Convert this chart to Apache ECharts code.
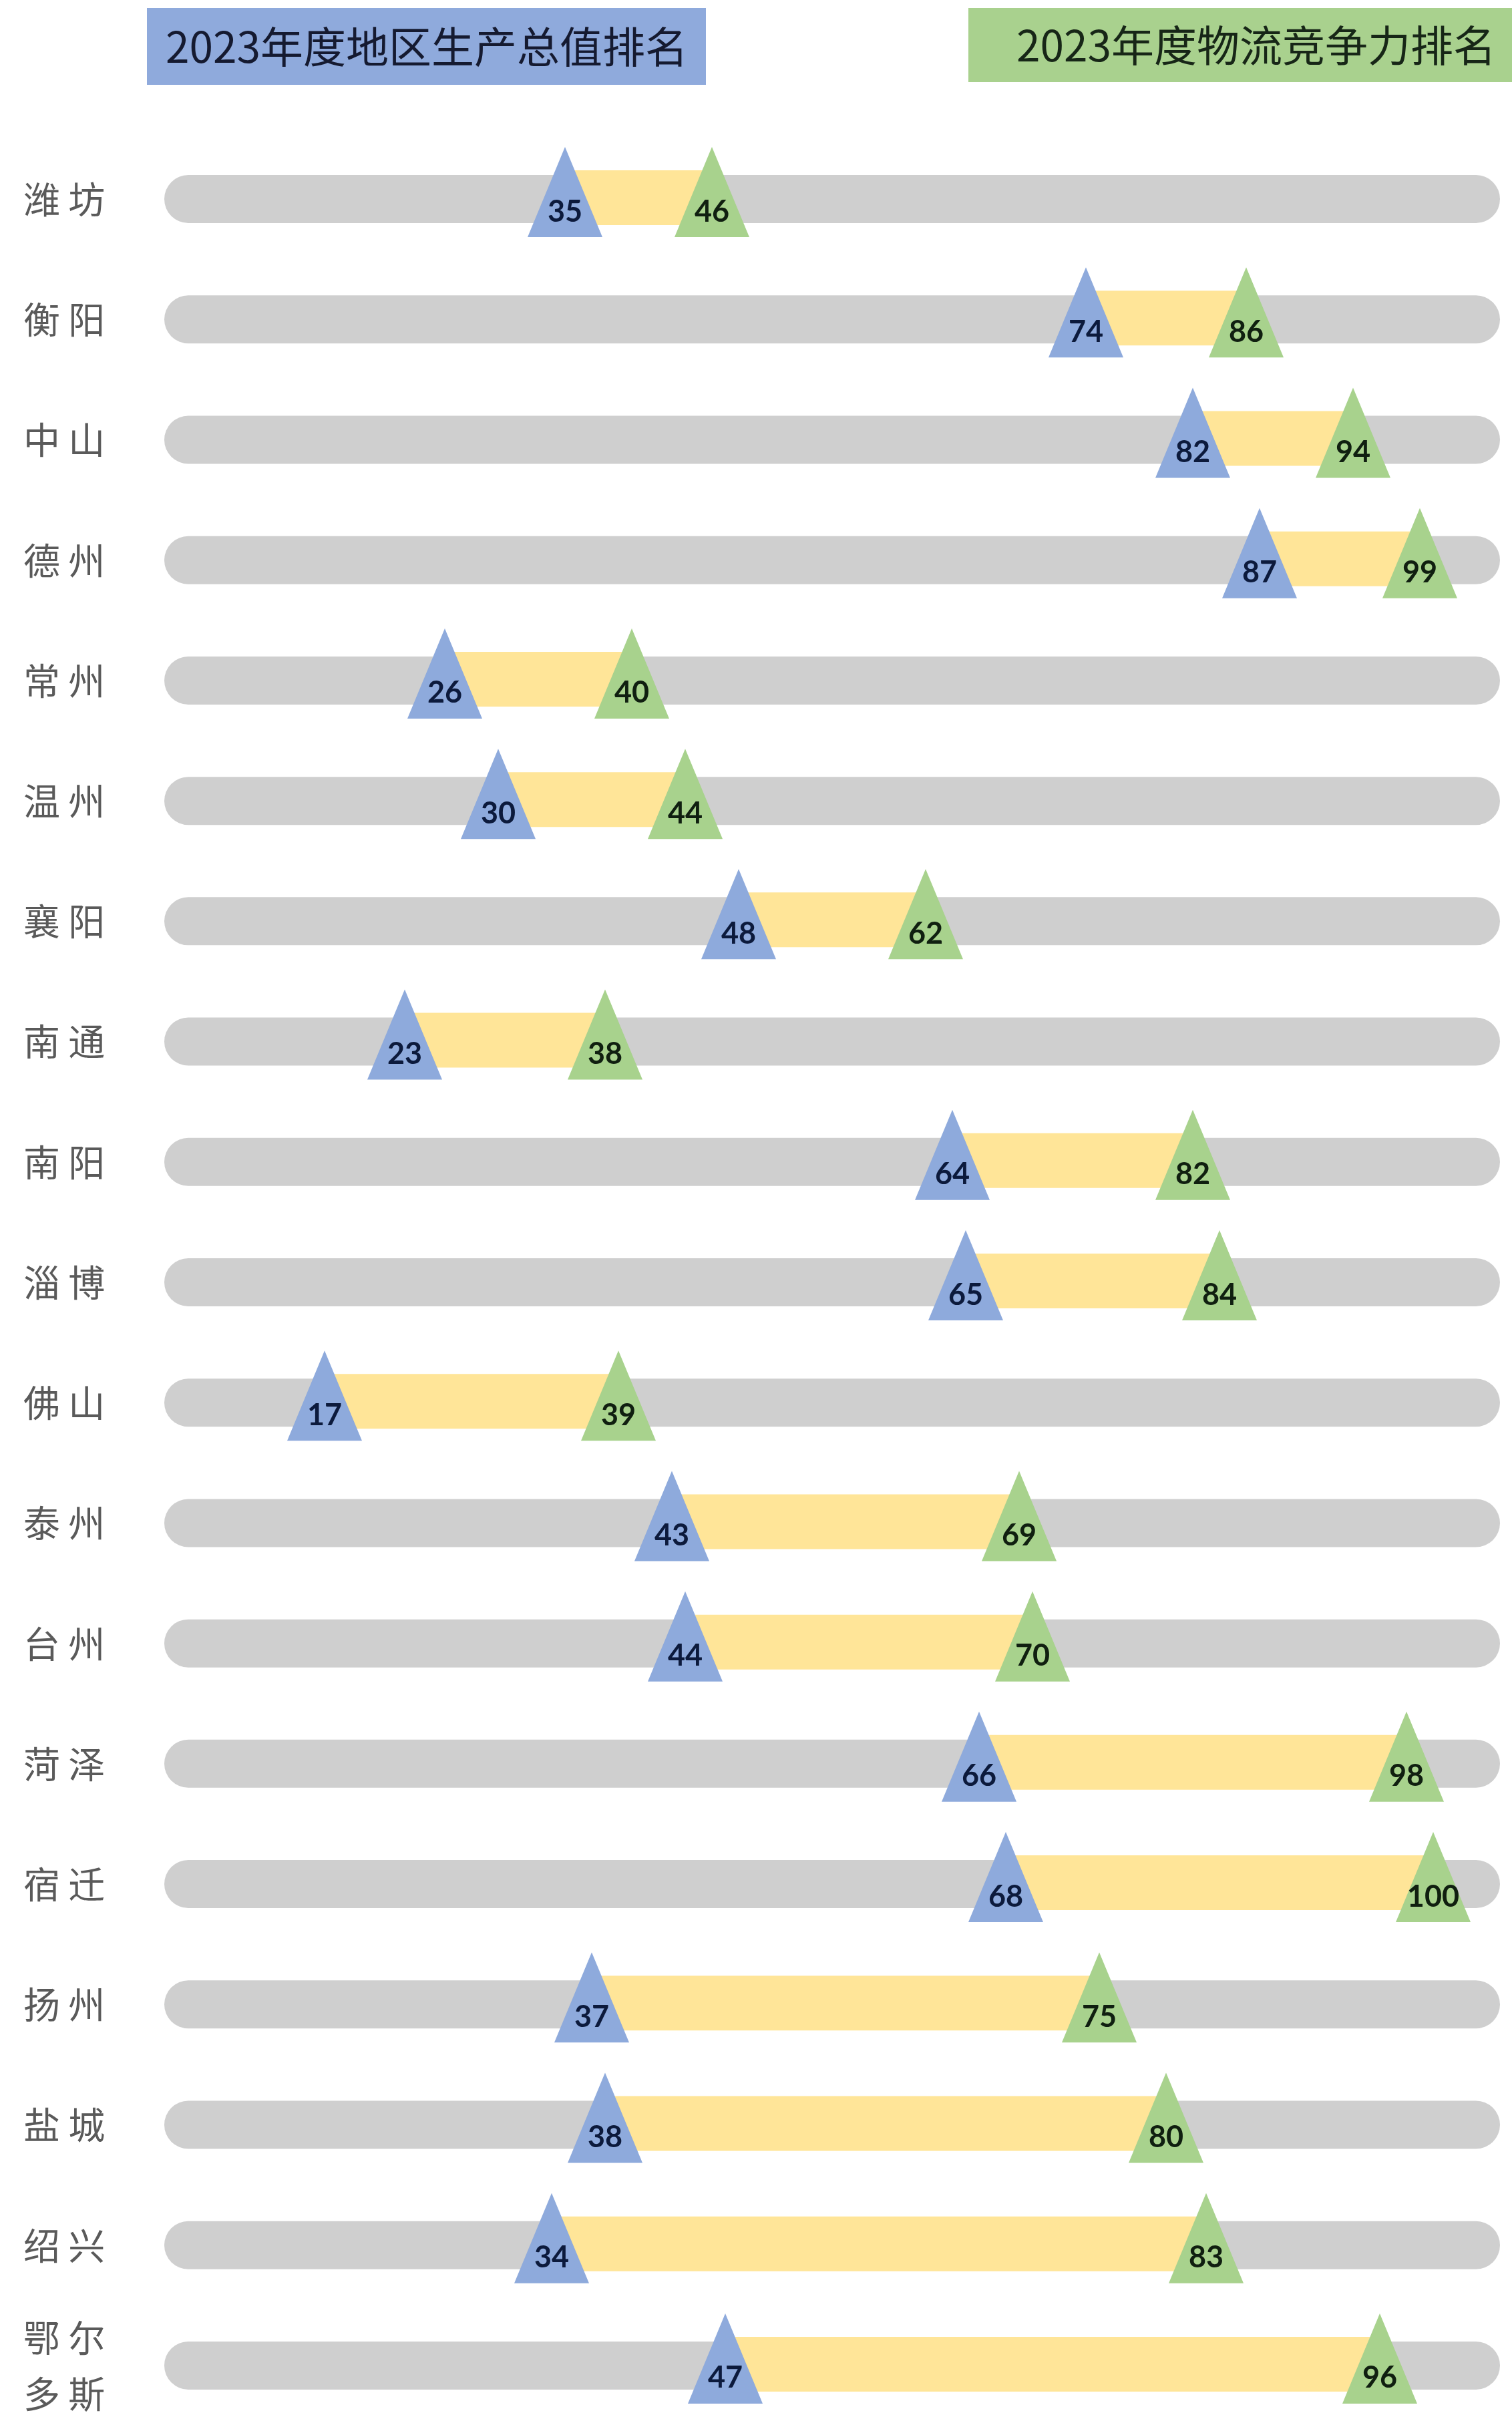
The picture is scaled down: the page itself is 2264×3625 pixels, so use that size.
<!DOCTYPE html>
<html>
<head>
<meta charset="utf-8">
<script src="https://cdn.jsdelivr.net/npm/echarts@6/dist/echarts.min.js"></script>
<style>
html, body { margin: 0; padding: 0; background: #fff; }
#main { width: 2264px; height: 3625px; }
</style>
</head>
<body>
<div id="main"></div>
<script>
var cities = ['潍坊', '衡阳', '中山', '德州', '常州', '温州', '襄阳', '南通', '南阳', '淄博',
	'佛山', '泰州', '台州', '菏泽', '宿迁', '扬州', '盐城', '绍兴', '鄂尔多斯'];
var gdpRank = [35, 74, 82, 87, 26, 30, 48, 23, 64, 65, 17, 43, 44, 66, 68, 37, 38, 34, 47];
var logisticsRank = [46, 86, 94, 99, 40, 44, 62, 38, 82, 84, 39, 69, 70, 98, 100, 75, 80, 83, 96];
var gdpTitle = '2023年度地区生产总值排名';
var logisticsTitle = '2023年度物流竞争力排名';

// grey track runs over this span of the rank axis
var trackFrom = 5, trackTo = 105;

var myChart = echarts.init(document.getElementById('main'));

var rows = [];
for (var i = 0; i < cities.length; i++) {
	rows.push([i, gdpRank[i], logisticsRank[i]]);
}

function triangle(x, cy, color) {
	return {
		type : 'polygon',
		shape : { points : [[x, cy - 78], [x - 56, cy + 57], [x + 56, cy + 57]] },
		style : { fill : color }
	};
}

function rankLabel(x, cy, v, color) {
	return {
		type : 'text',
		x : x,
		y : cy + 19,
		style : {
			text : String(v),
			fontSize : 45,
			fontWeight : 'bold',
			fontFamily : 'Lato',
			fill : color,
			align : 'center',
			verticalAlign : 'middle'
		}
	};
}

function renderRow(params, api) {
	var row = api.value(0);
	var a = api.coord([api.value(1), row]);
	var b = api.coord([api.value(2), row]);
	var t0 = api.coord([trackFrom, row]);
	var t1 = api.coord([trackTo, row]);
	var cy = a[1];
	return {
		type : 'group',
		children : [
			{
				type : 'rect',
				shape : { x : t0[0], y : cy - 36, width : t1[0] - t0[0], height : 72, r : 36 },
				style : { fill : '#cfcfcf' }
			},
			{
				type : 'rect',
				shape : { x : a[0], y : cy - 43, width : b[0] - a[0], height : 82 },
				style : { fill : '#ffe598' }
			},
			triangle(a[0], cy, '#8eaadc'),
			triangle(b[0], cy, '#a8d28d'),
			rankLabel(a[0], cy, api.value(1), '#0c1a3c'),
			rankLabel(b[0], cy, api.value(2), '#101f10')
		]
	};
}

var option = {
	backgroundColor : '#fff',
	animation : false,
	graphic : [
		{ type : 'rect', shape : { x : 220, y : 12, width : 837, height : 115 }, style : { fill : '#8faadc' } },
		{
			type : 'text', x : 639, y : 70,
			style : { text : gdpTitle, fontSize : 64, fontFamily : 'Noto Sans CJK SC', fill : '#151a30', align : 'center', verticalAlign : 'middle' }
		},
		{ type : 'rect', shape : { x : 1450, y : 12, width : 860, height : 111 }, style : { fill : '#a9d18e' } },
		{
			type : 'text', x : 1881, y : 68,
			style : { text : logisticsTitle, fontSize : 64, fontFamily : 'Noto Sans CJK SC', fill : '#172617', align : 'center', verticalAlign : 'middle' }
		}
	],
	grid : {
		left : 146,
		right : 18,
		top : 208,
		height : 3424,
		outerBoundsMode : 'none'
	},
	xAxis : {
		type : 'value',
		min : 0,
		max : 105,
		show : false
	},
	yAxis : {
		type : 'category',
		inverse : true,
		data : cities,
		axisLine : { show : false },
		axisTick : { show : false },
		splitLine : { show : false },
		axisLabel : {
			align : 'left',
			margin : 111,
			fontSize : 55,
			lineHeight : 84,
			fontFamily : 'Noto Sans CJK SC',
			color : '#5a5a5a',
			formatter : function(name) {
				if (name.length > 2) {
					return name.slice(0, 2).split('').join(' ') + '\n' + name.slice(2).split('').join(' ');
				}
				return name.split('').join(' ');
			}
		}
	},
	series : [{
		name : 'rank',
		type : 'custom',
		renderItem : renderRow,
		encode : { x : [1, 2], y : 0 },
		data : rows
	}]
};
myChart.setOption(option);
</script>
</body>
</html>
